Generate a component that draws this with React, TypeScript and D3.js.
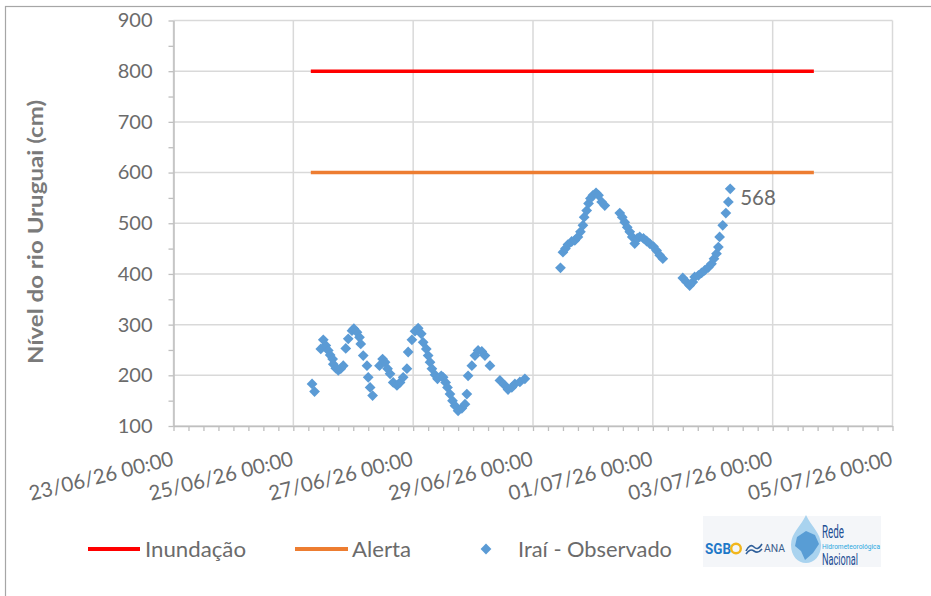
import { useEffect, useRef } from 'react'
import * as d3 from 'd3'

// Tick labels / levels
const xTickLabels = [
  '23/06/26 00:00',
  '25/06/26 00:00',
  '27/06/26 00:00',
  '29/06/26 00:00',
  '01/07/26 00:00',
  '03/07/26 00:00',
  '05/07/26 00:00',
]
const yTicks = [100, 200, 300, 400, 500, 600, 700, 800, 900]
const yMinorTicks = [150, 250, 350, 450, 550, 650, 750, 850]

// Reference levels (cota de inundação / alerta)
const thresholdTimes = ['25/06/26 07:00', '03/07/26 16:30']
const inundacao = [800, 800]
const alerta = [600, 600]

// Iraí - observado (cm)
const observed: [string, number][] = [
  ['25/06/26 07:30', 183], ['25/06/26 08:30', 168], ['25/06/26 11:00', 252], ['25/06/26 12:00', 270],
  ['25/06/26 13:00', 259], ['25/06/26 14:00', 249], ['25/06/26 14:45', 240], ['25/06/26 15:45', 232],
  ['25/06/26 16:00', 222], ['25/06/26 17:00', 214], ['25/06/26 18:00', 210], ['25/06/26 19:00', 213],
  ['25/06/26 20:00', 219], ['25/06/26 21:00', 253], ['25/06/26 22:00', 272], ['25/06/26 23:30', 288],
  ['26/06/26 00:15', 292], ['26/06/26 01:30', 285], ['26/06/26 02:30', 275], ['26/06/26 03:00', 262],
  ['26/06/26 04:00', 239], ['26/06/26 05:30', 219], ['26/06/26 06:00', 196], ['26/06/26 06:45', 176],
  ['26/06/26 07:45', 160], ['26/06/26 10:30', 219], ['26/06/26 11:45', 232], ['26/06/26 12:45', 226],
  ['26/06/26 13:45', 213], ['26/06/26 14:45', 203], ['26/06/26 16:00', 186], ['26/06/26 17:30', 180],
  ['26/06/26 18:45', 186], ['26/06/26 20:00', 196], ['26/06/26 21:30', 213], ['26/06/26 22:00', 246],
  ['26/06/26 23:30', 270], ['27/06/26 00:45', 287], ['27/06/26 02:00', 293], ['27/06/26 03:15', 282],
  ['27/06/26 04:00', 265], ['27/06/26 05:15', 252], ['27/06/26 06:00', 239], ['27/06/26 06:45', 226],
  ['27/06/26 07:30', 213], ['27/06/26 08:45', 201], ['27/06/26 09:45', 193], ['27/06/26 11:15', 199],
  ['27/06/26 12:00', 196], ['27/06/26 13:00', 186], ['27/06/26 13:45', 176], ['27/06/26 14:45', 163],
  ['27/06/26 15:45', 150], ['27/06/26 16:45', 140], ['27/06/26 18:00', 130], ['27/06/26 19:30', 135],
  ['27/06/26 20:45', 143], ['27/06/26 21:30', 163], ['27/06/26 22:00', 199], ['27/06/26 23:30', 219],
  ['28/06/26 00:45', 239], ['28/06/26 02:00', 249], ['28/06/26 03:30', 247], ['28/06/26 04:45', 239],
  ['28/06/26 06:45', 219], ['28/06/26 10:45', 190], ['28/06/26 12:45', 180], ['28/06/26 14:00', 172],
  ['28/06/26 15:30', 176], ['28/06/26 16:45', 183], ['28/06/26 18:45', 187], ['28/06/26 20:45', 193],
  ['29/06/26 11:00', 412], ['29/06/26 12:00', 443], ['29/06/26 13:00', 450], ['29/06/26 14:00', 458],
  ['29/06/26 15:30', 464], ['29/06/26 16:45', 466], ['29/06/26 18:00', 473], ['29/06/26 19:00', 483],
  ['29/06/26 20:00', 496], ['29/06/26 20:30', 512], ['29/06/26 21:30', 525], ['29/06/26 22:15', 539],
  ['29/06/26 23:00', 549], ['30/06/26 00:00', 555], ['30/06/26 01:15', 560], ['30/06/26 02:15', 555],
  ['30/06/26 03:30', 542], ['30/06/26 04:45', 535], ['30/06/26 10:45', 520], ['30/06/26 11:45', 512],
  ['30/06/26 12:45', 502], ['30/06/26 13:45', 492], ['30/06/26 14:45', 483], ['30/06/26 15:45', 473],
  ['30/06/26 16:45', 460], ['30/06/26 17:45', 470], ['30/06/26 18:45', 473], ['30/06/26 20:15', 470],
  ['30/06/26 21:30', 465], ['30/06/26 22:45', 460], ['01/07/26 00:15', 454], ['01/07/26 01:30', 446],
  ['01/07/26 02:45', 437], ['01/07/26 04:00', 430], ['01/07/26 12:00', 392], ['01/07/26 13:30', 384],
  ['01/07/26 14:45', 377], ['01/07/26 16:00', 384], ['01/07/26 16:45', 394], ['01/07/26 18:15', 397],
  ['01/07/26 19:30', 402], ['01/07/26 20:45', 407], ['01/07/26 22:15', 413], ['01/07/26 23:30', 420],
  ['02/07/26 00:30', 430], ['02/07/26 01:30', 440], ['02/07/26 02:15', 453], ['02/07/26 02:45', 473],
  ['02/07/26 04:00', 496], ['02/07/26 05:15', 520], ['02/07/26 06:15', 542], ['02/07/26 07:00', 568],
]

const W = 931
const H = 596
const PLOT = { left: 173.5, right: 892.5, top: 20.5, bottom: 426 }
const FONT = 'Lato, "Open Sans", sans-serif'
const TEXT = '#6b6b6b'
const GRID = '#d9d9d9'
const AXIS = '#bfbfbf'
const RED = '#ff0000'
const ORANGE = '#ed7d31'
const BLUE = '#5b9bd5'

const parse = d3.timeParse('%d/%m/%y %H:%M')

// Excel-style square diamond (d3's built-in one is elongated)
const squareDiamond = {
  draw(ctx: d3.Path, size: number) {
    const r = Math.sqrt(size / 2)
    ctx.moveTo(0, -r)
    ctx.lineTo(r, 0)
    ctx.lineTo(0, r)
    ctx.lineTo(-r, 0)
    ctx.closePath()
  },
}

export default function App() {
  const svgRef = useRef<SVGSVGElement>(null)

  useEffect(() => {
    if (!svgRef.current) return
    const svg = d3.select(svgRef.current)
    svg.selectAll('*').remove()

    const xTicks = xTickLabels.map((s) => parse(s) as Date)
    const x = d3
      .scaleTime()
      .domain([xTicks[0], xTicks[xTicks.length - 1]])
      .range([PLOT.left, PLOT.right])
    const y = d3.scaleLinear().domain([100, 900]).range([PLOT.bottom, PLOT.top])

    // outer chart frame
    svg.append('rect')
      .attr('x', 5.5).attr('y', 6.5).attr('width', W + 20).attr('height', H + 20)
      .attr('fill', 'none').attr('stroke', '#a6a6a6').attr('stroke-width', 1.2)

    // gridlines
    svg.append('g')
      .selectAll('line')
      .data(yTicks)
      .join('line')
      .attr('x1', PLOT.left).attr('x2', PLOT.right)
      .attr('y1', (d) => y(d)).attr('y2', (d) => y(d))
      .attr('stroke', GRID).attr('stroke-width', 1.5)
    svg.append('g')
      .selectAll('line')
      .data(xTicks)
      .join('line')
      .attr('x1', (d) => x(d)).attr('x2', (d) => x(d))
      .attr('y1', PLOT.top).attr('y2', PLOT.bottom)
      .attr('stroke', GRID).attr('stroke-width', 1.5)

    // y axis (major + minor ticks)
    svg.append('g')
      .attr('transform', `translate(${PLOT.left},0)`)
      .call(d3.axisLeft(y).tickValues(yMinorTicks).tickSize(5).tickFormat(() => ''))
      .call((g) => {
        g.select('.domain').remove()
        g.selectAll('.tick line').attr('stroke', AXIS).attr('stroke-width', 1.3)
      })
    svg.append('g')
      .attr('transform', `translate(${PLOT.left},0)`)
      .call(d3.axisLeft(y).tickValues(yTicks).tickSize(5).tickPadding(16).tickSizeOuter(0))
      .call((g) => {
        g.select('.domain').attr('stroke', AXIS).attr('stroke-width', 1.5)
        g.selectAll('.tick line').attr('stroke', AXIS).attr('stroke-width', 1.3)
        g.selectAll('.tick text')
          .attr('fill', TEXT)
          .attr('font-size', 20)
          .attr('font-family', FONT)
      })

    // x axis: 6-hour minor ticks, 2-day labels
    svg.append('g')
      .attr('transform', `translate(0,${PLOT.bottom})`)
      .call(
        d3.axisBottom(x)
          .ticks(d3.timeHour.every(6))
          .tickSize(5)
          .tickSizeOuter(0)
          .tickFormat(() => ''),
      )
      .call((g) => {
        g.select('.domain').attr('stroke', AXIS).attr('stroke-width', 1.5)
        g.selectAll('.tick line').attr('stroke', AXIS).attr('stroke-width', 1.3)
      })
    const labelY = 465
    svg.append('g')
      .selectAll('text')
      .data(xTicks)
      .join('text')
      .attr('x', (d) => x(d) + 1)
      .attr('y', labelY)
      .attr('transform', (d) => `rotate(-14,${x(d) + 1},${labelY})`)
      .attr('text-anchor', 'end')
      .attr('fill', TEXT)
      .attr('font-size', 20.5)
      .attr('font-family', FONT)
      .text((_, i) => xTickLabels[i])

    // y axis title
    svg.append('text')
      .attr('transform', 'translate(43,232) rotate(-90)')
      .attr('text-anchor', 'middle')
      .attr('fill', '#7a7a7a')
      .attr('font-size', 21)
      .attr('font-weight', 'bold')
      .attr('font-family', FONT)
      .attr('textLength', 264)
      .attr('lengthAdjust', 'spacingAndGlyphs')
      .text('Nível do rio Uruguai (cm)')

    // threshold lines
    const line = d3
      .line<[Date, number]>()
      .x((d) => x(d[0]))
      .y((d) => y(d[1]))
    const tTimes = thresholdTimes.map((s) => parse(s) as Date)
    const series: [number[], string][] = [
      [inundacao, RED],
      [alerta, ORANGE],
    ]
    series.forEach(([vals, color]) => {
      svg.append('path')
        .datum(tTimes.map((t, i) => [t, vals[i]] as [Date, number]))
        .attr('d', line)
        .attr('fill', 'none')
        .attr('stroke', color)
        .attr('stroke-width', 3.5)
    })

    // observed points
    const pts = observed.map(([s, v]) => [parse(s) as Date, v] as [Date, number])
    const sym = d3.symbol().type(squareDiamond as unknown as d3.SymbolType).size(58)
    svg.append('g')
      .selectAll('path')
      .data(pts)
      .join('path')
      .attr('d', sym)
      .attr('transform', (d) => `translate(${x(d[0])},${y(d[1])})`)
      .attr('fill', BLUE)

    // last value label
    const last = pts[pts.length - 1]
    svg.append('text')
      .attr('x', x(last[0]) + 10)
      .attr('y', y(last[1]) + 16)
      .attr('fill', TEXT)
      .attr('font-size', 20.5)
      .attr('font-family', FONT)
      .text(String(last[1]))

    // legend
    const legendY = 549
    const legend = svg.append('g').attr('font-family', FONT).attr('font-size', 21).attr('fill', TEXT)
    legend.append('line')
      .attr('x1', 88).attr('x2', 140).attr('y1', legendY).attr('y2', legendY)
      .attr('stroke', RED).attr('stroke-width', 4)
    legend.append('text').attr('x', 145).attr('y', legendY + 7.5)
      .attr('textLength', 101).attr('lengthAdjust', 'spacingAndGlyphs').text('Inundação')
    legend.append('line')
      .attr('x1', 295).attr('x2', 348).attr('y1', legendY).attr('y2', legendY)
      .attr('stroke', ORANGE).attr('stroke-width', 4)
    legend.append('text').attr('x', 352).attr('y', legendY + 7.5)
      .attr('textLength', 59).attr('lengthAdjust', 'spacingAndGlyphs').text('Alerta')
    legend.append('path')
      .attr('d', sym)
      .attr('transform', `translate(486,${legendY})`)
      .attr('fill', BLUE)
    legend.append('text').attr('x', 518).attr('y', legendY + 7.5)
      .attr('textLength', 154).attr('lengthAdjust', 'spacingAndGlyphs').text('Iraí - Observado')

    // agency logos (SGB / ANA / Rede Hidrometeorológica Nacional)
    const logo = svg.append('g')
    logo.append('rect')
      .attr('x', 703).attr('y', 516).attr('width', 178).attr('height', 51)
      .attr('fill', '#f4f6f9')
    const narrow = 'Roboto, "Noto Sans", sans-serif'
    logo.append('text')
      .attr('x', 705).attr('y', 554)
      .attr('font-family', narrow).attr('font-weight', 'bold').attr('font-size', 15)
      .attr('textLength', 26).attr('lengthAdjust', 'spacingAndGlyphs')
      .attr('fill', '#1e78c8').text('SGB')
    logo.append('circle')
      .attr('cx', 736).attr('cy', 548.5).attr('r', 4.8)
      .attr('fill', 'none').attr('stroke', '#f2b61c').attr('stroke-width', 2.4)
    logo.append('path')
      .attr('d', 'M746,551 q4,-8 8,-4 t8,-3 M746,554 q4,-6 8,-3 t8,-2')
      .attr('fill', 'none').attr('stroke', '#2f5f9a').attr('stroke-width', 1.6)
    logo.append('text')
      .attr('x', 764).attr('y', 552)
      .attr('font-family', narrow).attr('font-size', 11)
      .attr('textLength', 21).attr('lengthAdjust', 'spacingAndGlyphs')
      .attr('fill', '#3b5e8c').text('ANA')
    logo.append('path')
      .attr('d', 'M806,515 C801,526 791,533 791,545 C791,556 798,563 806,563 C814,563 821,556 821,545 C821,533 811,526 806,515 Z')
      .attr('fill', '#a9d3ef')
    logo.append('path')
      .attr('d', 'M797,537 L806,531 L815,535 L819,544 L813,553 L805,560 L801,551 L795,546 Z')
      .attr('fill', '#4a93d0').attr('opacity', 0.85)
    logo.append('text')
      .attr('x', 822).attr('y', 538)
      .attr('font-family', narrow).attr('font-size', 19)
      .attr('textLength', 22).attr('lengthAdjust', 'spacingAndGlyphs')
      .attr('fill', '#1f4f94').text('Rede')
    logo.append('text')
      .attr('x', 822).attr('y', 548.5)
      .attr('font-family', narrow).attr('font-size', 7)
      .attr('textLength', 58).attr('lengthAdjust', 'spacingAndGlyphs')
      .attr('fill', '#2aa7df').text('Hidrometeorológica')
    logo.append('text')
      .attr('x', 822).attr('y', 565)
      .attr('font-family', narrow).attr('font-size', 16)
      .attr('textLength', 36).attr('lengthAdjust', 'spacingAndGlyphs')
      .attr('fill', '#1f4f94').text('Nacional')
  }, [])

  return (
    <div style={{ position: 'absolute', left: 0, top: 0, width: W, height: H, background: '#fff' }}>
      <svg ref={svgRef} width={W} height={H} style={{ display: 'block' }} />
    </div>
  )
}
